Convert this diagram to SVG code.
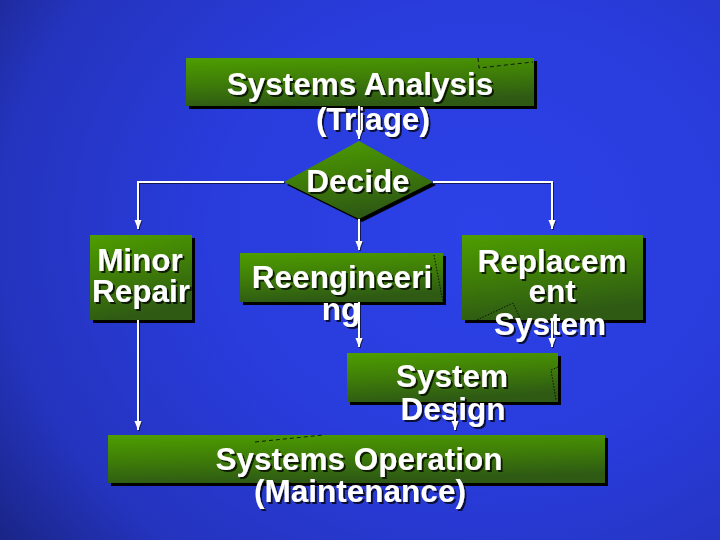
<svg xmlns="http://www.w3.org/2000/svg" width="720" height="540" viewBox="0 0 720 540">
<defs>
<radialGradient id="bg" cx="480" cy="230" r="600" gradientUnits="userSpaceOnUse" gradientTransform="translate(480 230) scale(1 0.85) translate(-480 -230)">
<stop offset="0" stop-color="#2c42e8"/>
<stop offset="0.45" stop-color="#293cdc"/>
<stop offset="0.8" stop-color="#2434be"/>
<stop offset="1" stop-color="#1a2588"/>
</radialGradient>
<linearGradient id="green" x1="0" y1="0" x2="0.25" y2="1">
<stop offset="0" stop-color="#4e9e00"/>
<stop offset="0.5" stop-color="#3f7e08"/>
<stop offset="1" stop-color="#2e5a14"/>
</linearGradient>
<filter id="ts" x="-10%" y="-20%" width="130%" height="150%">
<feDropShadow dx="2" dy="2" stdDeviation="0.6" flood-color="#000" flood-opacity="0.75"/>
</filter>
<filter id="ls" x="-20%" y="-20%" width="140%" height="140%">
<feDropShadow dx="1" dy="1" stdDeviation="0.3" flood-color="#000" flood-opacity="0.6"/>
</filter>
<marker id="ah" markerUnits="userSpaceOnUse" markerWidth="10" markerHeight="8" refX="9" refY="3.5" orient="auto">
<path d="M0,0 L9,3.5 L0,7 Z" fill="#fff"/>
</marker>
<style>
.box{fill:url(#green)}
.sh{fill:#000}
.t{font-family:"Liberation Sans",Arial,sans-serif;font-weight:bold;font-size:31.5px;fill:#fff;text-anchor:middle;filter:url(#ts)}
.c{fill:none;stroke:#fff;stroke-width:2;marker-end:url(#ah)}
.d{fill:none;stroke:#000;stroke-width:0.8;stroke-dasharray:4 3}
.dt{fill:none;stroke:#000;stroke-width:0.8;stroke-dasharray:1.5 1.5}
</style>
</defs>
<rect width="720" height="540" fill="url(#bg)"/>

<g id="systems-analysis">
<rect class="sh" x="189" y="61" width="348" height="48"/>
<rect class="box" x="186" y="58" width="348" height="48"/>
<path class="d" d="M478,58 L479,68 L533,62"/>
<text class="t" x="360" y="95">Systems Analysis</text>
<text class="t" x="373" y="130">(Triage)</text>
</g>

<g id="decide">
<polygon class="sh" points="362,144 436,185 362,222 287,185"/>
<polygon class="box" points="359,141 433,182 359,219 284,182"/>
<text class="t" x="358" y="192">Decide</text>
</g>

<g id="minor-repair">
<rect class="sh" x="93" y="238" width="102" height="85"/>
<rect class="box" x="90" y="235" width="102" height="85"/>
<text class="t" x="140" y="271">Minor</text>
<text class="t" x="141" y="302">Repair</text>
</g>

<g id="reengineering">
<rect class="sh" x="243" y="256" width="203" height="49"/>
<rect class="box" x="240" y="253" width="203" height="49"/>
<path class="dt" d="M434,255 L443,302"/>
<text class="t" x="342" y="288">Reengineeri</text>
<text class="t" x="341" y="320">ng</text>
</g>

<g id="replacement">
<rect class="sh" x="465" y="238" width="181" height="85"/>
<rect class="box" x="462" y="235" width="181" height="85"/>
<path class="dt" d="M477,320 L513,303 L520,318"/>
<text class="t" x="552" y="272">Replacem</text>
<text class="t" x="552" y="302">ent</text>
<text class="t" x="550" y="335">System</text>
</g>

<g id="system-design">
<rect class="sh" x="350" y="356" width="211" height="49"/>
<rect class="box" x="347" y="353" width="211" height="49"/>
<path class="dt" d="M558,367 L551,370 L556,400"/>
<text class="t" x="452" y="387">System</text>
<text class="t" x="453" y="420">Design</text>
</g>

<g id="systems-operation">
<rect class="sh" x="111" y="438" width="497" height="48"/>
<rect class="box" x="108" y="435" width="497" height="48"/>
<path class="d" d="M255,442 L323,435"/>
<text class="t" x="359" y="470">Systems Operation</text>
<text class="t" x="360" y="502">(Maintenance)</text>
</g>

<g id="connectors" filter="url(#ls)">
<path class="c" d="M359,106 L359,139"/>
<path class="c" d="M284,182 L138,182 L138,229"/>
<path class="c" d="M433,182 L552,182 L552,229"/>
<path class="c" d="M359,219 L359,250"/>
<path class="c" d="M359,302 L359,347"/>
<path class="c" d="M552,320 L552,347"/>
<path class="c" d="M138,320 L138,430"/>
<path class="c" d="M455,402 L455,430"/>
</g>
</svg>
